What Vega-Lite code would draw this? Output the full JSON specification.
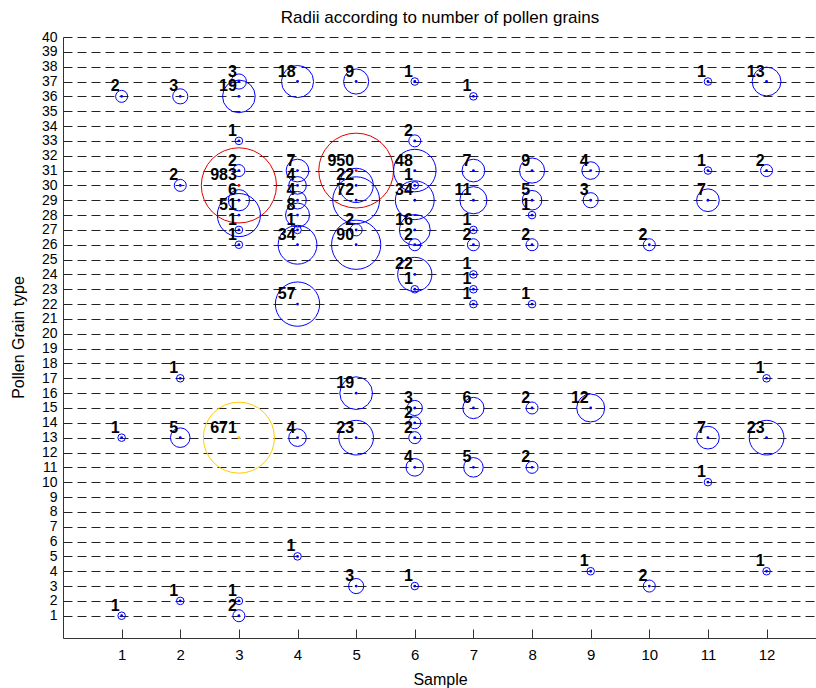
{
  "$schema": "https://vega.github.io/schema/vega-lite/v6.json",
  "width": 754,
  "height": 601,
  "autosize": {"type": "none"},
  "padding": {"left": 63, "top": 37, "right": 0, "bottom": 50},
  "background": "white",
  "config": {
    "view": {"stroke": null},
    "font": "Liberation Sans",
    "axis": {"labelColor": "black", "titleColor": "black", "labelFont": "Liberation Sans", "titleFont": "Liberation Sans", "titleFontWeight": "normal"}
  },
  "title": {
    "text": "Radii according to number of pollen grains",
    "fontSize": 17,
    "fontWeight": "normal",
    "color": "black",
    "anchor": "middle",
    "frame": "group",
    "baseline": "alphabetic",
    "offset": 12,
    "dy": 22
  },
  "data": {
    "values": [
      {"s": 1, "t": 36, "n": 2}, {"s": 1, "t": 13, "n": 1}, {"s": 1, "t": 1, "n": 1},
      {"s": 2, "t": 36, "n": 3}, {"s": 2, "t": 30, "n": 2}, {"s": 2, "t": 17, "n": 1}, {"s": 2, "t": 13, "n": 5}, {"s": 2, "t": 2, "n": 1},
      {"s": 3, "t": 37, "n": 3}, {"s": 3, "t": 36, "n": 19}, {"s": 3, "t": 33, "n": 1}, {"s": 3, "t": 31, "n": 2}, {"s": 3, "t": 30, "n": 983}, {"s": 3, "t": 29, "n": 6}, {"s": 3, "t": 28, "n": 51}, {"s": 3, "t": 27, "n": 1}, {"s": 3, "t": 26, "n": 1}, {"s": 3, "t": 13, "n": 671}, {"s": 3, "t": 2, "n": 1}, {"s": 3, "t": 1, "n": 2},
      {"s": 4, "t": 37, "n": 18}, {"s": 4, "t": 31, "n": 7}, {"s": 4, "t": 30, "n": 4}, {"s": 4, "t": 29, "n": 4}, {"s": 4, "t": 28, "n": 8}, {"s": 4, "t": 27, "n": 1}, {"s": 4, "t": 26, "n": 34}, {"s": 4, "t": 22, "n": 57}, {"s": 4, "t": 13, "n": 4}, {"s": 4, "t": 5, "n": 1},
      {"s": 5, "t": 37, "n": 9}, {"s": 5, "t": 31, "n": 950}, {"s": 5, "t": 30, "n": 22}, {"s": 5, "t": 29, "n": 72}, {"s": 5, "t": 27, "n": 2}, {"s": 5, "t": 26, "n": 90}, {"s": 5, "t": 16, "n": 19}, {"s": 5, "t": 13, "n": 23}, {"s": 5, "t": 3, "n": 3},
      {"s": 6, "t": 37, "n": 1}, {"s": 6, "t": 33, "n": 2}, {"s": 6, "t": 31, "n": 48}, {"s": 6, "t": 30, "n": 1}, {"s": 6, "t": 29, "n": 34}, {"s": 6, "t": 27, "n": 16}, {"s": 6, "t": 26, "n": 2}, {"s": 6, "t": 24, "n": 22}, {"s": 6, "t": 23, "n": 1}, {"s": 6, "t": 15, "n": 3}, {"s": 6, "t": 14, "n": 2}, {"s": 6, "t": 13, "n": 2}, {"s": 6, "t": 11, "n": 4}, {"s": 6, "t": 3, "n": 1},
      {"s": 7, "t": 36, "n": 1}, {"s": 7, "t": 31, "n": 7}, {"s": 7, "t": 29, "n": 11}, {"s": 7, "t": 27, "n": 1}, {"s": 7, "t": 26, "n": 2}, {"s": 7, "t": 24, "n": 1}, {"s": 7, "t": 23, "n": 1}, {"s": 7, "t": 22, "n": 1}, {"s": 7, "t": 15, "n": 6}, {"s": 7, "t": 11, "n": 5},
      {"s": 8, "t": 31, "n": 9}, {"s": 8, "t": 29, "n": 5}, {"s": 8, "t": 28, "n": 1}, {"s": 8, "t": 26, "n": 2}, {"s": 8, "t": 22, "n": 1}, {"s": 8, "t": 15, "n": 2}, {"s": 8, "t": 11, "n": 2},
      {"s": 9, "t": 31, "n": 4}, {"s": 9, "t": 29, "n": 3}, {"s": 9, "t": 15, "n": 12}, {"s": 9, "t": 4, "n": 1},
      {"s": 10, "t": 26, "n": 2}, {"s": 10, "t": 3, "n": 2},
      {"s": 11, "t": 37, "n": 1}, {"s": 11, "t": 31, "n": 1}, {"s": 11, "t": 29, "n": 7}, {"s": 11, "t": 13, "n": 7}, {"s": 11, "t": 10, "n": 1},
      {"s": 12, "t": 37, "n": 13}, {"s": 12, "t": 31, "n": 2}, {"s": 12, "t": 17, "n": 1}, {"s": 12, "t": 13, "n": 23}, {"s": 12, "t": 4, "n": 1}
    ]
  },
  "encoding": {
    "x": {
      "field": "s", "type": "quantitative",
      "scale": {"domain": [0, 12.86], "nice": false, "zero": false},
      "axis": {
        "title": "Sample", "titleFontSize": 16, "titleY": 46, "titleBaseline": "alphabetic",
        "values": [1, 2, 3, 4, 5, 6, 7, 8, 9, 10, 11, 12],
        "grid": false, "tickSize": -9, "tickColor": "#333", "tickWidth": 1,
        "labelPadding": 18, "labelFontSize": 15, "labelBaseline": "top", "labelOverlap": false,
        "domainColor": "#333", "domainWidth": 1
      }
    },
    "y": {
      "field": "t", "type": "quantitative",
      "scale": {"domain": [-0.5, 40], "nice": false, "zero": false},
      "axis": {
        "title": "Pollen Grain type", "titleFontSize": 16, "titleX": -45, "titleY": 300, "titleAngle": 270, "titleAlign": "center", "titleBaseline": "middle",
        "values": [1, 2, 3, 4, 5, 6, 7, 8, 9, 10, 11, 12, 13, 14, 15, 16, 17, 18, 19, 20, 21, 22, 23, 24, 25, 26, 27, 28, 29, 30, 31, 32, 33, 34, 35, 36, 37, 38, 39, 40],
        "grid": true, "gridDash": [9, 5], "gridColor": "#222", "gridWidth": 1,
        "ticks": false, "labelPadding": 6, "labelFontSize": 14, "labelOverlap": false, "labelBound": false,
        "domainColor": "#333", "domainWidth": 1
      }
    }
  },
  "layer": [
    {
      "mark": {"type": "arc", "theta": 0, "theta2": 6.3, "fill": null, "fillOpacity": 0, "strokeWidth": 1},
      "encoding": {
        "radius": {"field": "n", "type": "quantitative", "stack": null, "scale": {"type": "symlog", "domain": [0, 983], "range": [0, 37.6]}},
        "stroke": {"field": "n", "type": "quantitative", "scale": {"type": "threshold", "domain": [600, 900], "range": ["#0000ff", "#ffcc00", "#dd0000"]}, "legend": null}
      }
    },
    {
      "mark": {"type": "point", "filled": true, "shape": "circle", "size": 8, "opacity": 1},
      "encoding": {
        "color": {"field": "n", "type": "quantitative", "scale": {"type": "threshold", "domain": [600, 900], "range": ["#0000ff", "#ffcc00", "#dd0000"]}, "legend": null}
      }
    },
    {
      "mark": {"type": "text", "align": "right", "baseline": "alphabetic", "dx": -2, "dy": -5, "fontWeight": "bold", "fontSize": 16, "color": "black"},
      "encoding": {"text": {"field": "n", "type": "quantitative"}}
    }
  ]
}
